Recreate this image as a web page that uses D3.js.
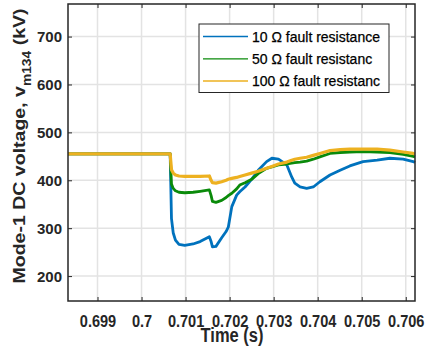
<!DOCTYPE html>
<html>
<head>
<meta charset="utf-8">
<script src="https://cdn.jsdelivr.net/npm/d3@7"></script>
<style>
  html, body { margin: 0; padding: 0; background: #fff; }
  svg { display: block; font-family: "Liberation Sans", Arial, Helvetica, sans-serif; }
</style>
</head>
<body>
<svg id="chart" width="426" height="352"></svg>
<script>
// Simulation time (s)
const time = [0.69833, 0.70065, 0.70068, 0.70072, 0.70077, 0.70085, 0.70098, 0.70117, 0.70133, 0.70154,
              0.70158, 0.70161, 0.70169, 0.70182, 0.70192, 0.70197, 0.70205, 0.70216, 0.70223, 0.70235,
              0.70250, 0.70265, 0.70284, 0.70296, 0.70311, 0.70330, 0.70341, 0.70348, 0.70360, 0.70375,
              0.70390, 0.70405, 0.70428, 0.70451, 0.70473, 0.70503, 0.70535, 0.70564, 0.70594, 0.70617,
              0.70621];

// DC voltage v_m134 (kV) for each fault resistance
const v10 = [455, 455, 320, 290, 275, 266, 264, 267, 272, 282,
             272, 261, 262, 280, 293, 302, 345, 369, 376, 386,
             402, 421, 439, 446, 444, 432, 407, 394, 386, 383,
             386, 397, 411, 421, 430, 439, 442, 446, 444, 439,
             437];
const v50 = [455, 455, 392, 383, 378, 375, 374, 375, 377, 380,
             368, 356, 354, 358, 364, 368, 373, 382, 390, 395,
             402, 414, 425, 428, 432, 434, 436, 437, 438, 440,
             444, 449, 456, 458, 459, 460, 459, 458, 454, 450,
             449];
const v100 = [455, 455, 422, 415, 411, 409, 408, 408, 408, 409,
              400, 395, 394, 397, 400, 402, 404, 406, 408, 411,
              415, 419, 425, 429, 434, 438, 442, 444, 446, 448,
              452, 456, 462, 464, 465, 465, 465, 463, 459, 456,
              455];

const seriesNames = ["10 \u03A9 fault resistance", "50 \u03A9 fault resistanc", "100 \u03A9 fault resistanc"];
const seriesColors = ["#0072BD", "#0a8a0a", "#EDB120"];

const xTicks = [0.699, 0.700, 0.701, 0.702, 0.703, 0.704, 0.705, 0.706];
const xTickLabels = ["0.699", "0.7", "0.701", "0.702", "0.703", "0.704", "0.705", "0.706"];
const yTicks = [200, 300, 400, 500, 600, 700];

const svg = d3.select("#chart");
const L = 68, R = 415, T = 4, B = 301;

const x = d3.scaleLinear().domain([0.69833, 0.70621]).range([L, R]);
const y = d3.scaleLinear().domain([148, 768]).range([B, T]);

// grid
const grid = svg.append("g");
grid.selectAll("line.gx").data(xTicks).join("line")
  .attr("x1", d => x(d)).attr("x2", d => x(d)).attr("y1", T).attr("y2", B)
  .attr("stroke", "#e3e3e3").attr("stroke-width", 1.5);
grid.selectAll("line.gy").data(yTicks).join("line")
  .attr("x1", L).attr("x2", R).attr("y1", d => y(d)).attr("y2", d => y(d))
  .attr("stroke", "#e3e3e3").attr("stroke-width", 1.5);

// series lines
const allSeries = [v10, v50, v100];
const line = d3.line().x((d, i) => x(time[i])).y(d => y(d));
const widths = [2.8, 2.8, 3.2];
allSeries.forEach((vals, k) => {
  svg.append("path").datum(vals)
    .attr("fill", "none")
    .attr("stroke", seriesColors[k])
    .attr("stroke-width", widths[k])
    .attr("stroke-linejoin", "round")
    .attr("d", line);
});

// axes (box with inward ticks on all sides)
const axisColor = "#262626";
const tickLen = 4;
const xb = svg.append("g").attr("transform", `translate(0,${B})`)
  .call(d3.axisBottom(x).tickValues(xTicks).tickSizeInner(-tickLen).tickSizeOuter(0)
        .tickFormat((d, i) => xTickLabels[i]));
const xt = svg.append("g").attr("transform", `translate(0,${T})`)
  .call(d3.axisTop(x).tickValues(xTicks).tickSizeInner(-tickLen).tickSizeOuter(0).tickFormat(""));
const yl = svg.append("g").attr("transform", `translate(${L},0)`)
  .call(d3.axisLeft(y).tickValues(yTicks).tickSizeInner(-tickLen).tickSizeOuter(0));
const yr = svg.append("g").attr("transform", `translate(${R},0)`)
  .call(d3.axisRight(y).tickValues(yTicks).tickSizeInner(-tickLen).tickSizeOuter(0).tickFormat(""));

[xb, xt, yl, yr].forEach(g => {
  g.select(".domain").remove();
  g.selectAll(".tick line").attr("stroke", axisColor).attr("stroke-width", 1);
});

svg.append("rect").attr("x", L).attr("y", T).attr("width", R - L).attr("height", B - T)
  .attr("fill", "none").attr("stroke", axisColor).attr("stroke-width", 1.5);

xb.selectAll(".tick text")
  .attr("font-size", 15).attr("font-weight", "bold").attr("fill", "#262626")
  .attr("font-family", "Liberation Sans, Arial, sans-serif")
  .attr("y", 0).attr("dy", 0)
  .attr("transform", "translate(0,26) scale(0.97,1.12)");
yl.selectAll(".tick text")
  .attr("font-size", 15).attr("font-weight", "bold").attr("fill", "#262626")
  .attr("font-family", "Liberation Sans, Arial, sans-serif")
  .attr("x", -6).attr("dy", "0.36em");

// axis titles
svg.append("text")
  .attr("transform", `translate(232,342) scale(1,1.2)`)
  .attr("text-anchor", "middle")
  .attr("font-size", 16.5).attr("font-weight", "bold").attr("fill", "#262626")
  .text("Time (s)");

const yt = svg.append("text")
  .attr("transform", `translate(25,146) rotate(-90) scale(1.15,1)`)
  .attr("text-anchor", "middle")
  .attr("font-size", 17).attr("font-weight", "bold").attr("fill", "#262626");
yt.append("tspan").text("Mode-1 DC voltage, v");
yt.append("tspan").attr("font-size", 12).attr("dy", 6).text("m134");
yt.append("tspan").attr("dy", -6).text(" (kV)");

// legend
const lg = svg.append("g");
lg.append("rect").attr("x", 199).attr("y", 24).attr("width", 190).attr("height", 68.5)
  .attr("fill", "#fff").attr("stroke", axisColor).attr("stroke-width", 1);
const rowY = [36.5, 58.8, 81];
seriesNames.forEach((name, k) => {
  lg.append("line").attr("x1", 203).attr("x2", 248).attr("y1", rowY[k]).attr("y2", rowY[k])
    .attr("stroke", seriesColors[k]).attr("stroke-width", 1.3);
  lg.append("text").attr("x", 252).attr("y", rowY[k]).attr("dy", "0.36em")
    .attr("font-size", 14).attr("fill", "#000")
    .attr("stroke", "#000").attr("stroke-width", 0.25)
    .text(name);
});
</script>
</body>
</html>
